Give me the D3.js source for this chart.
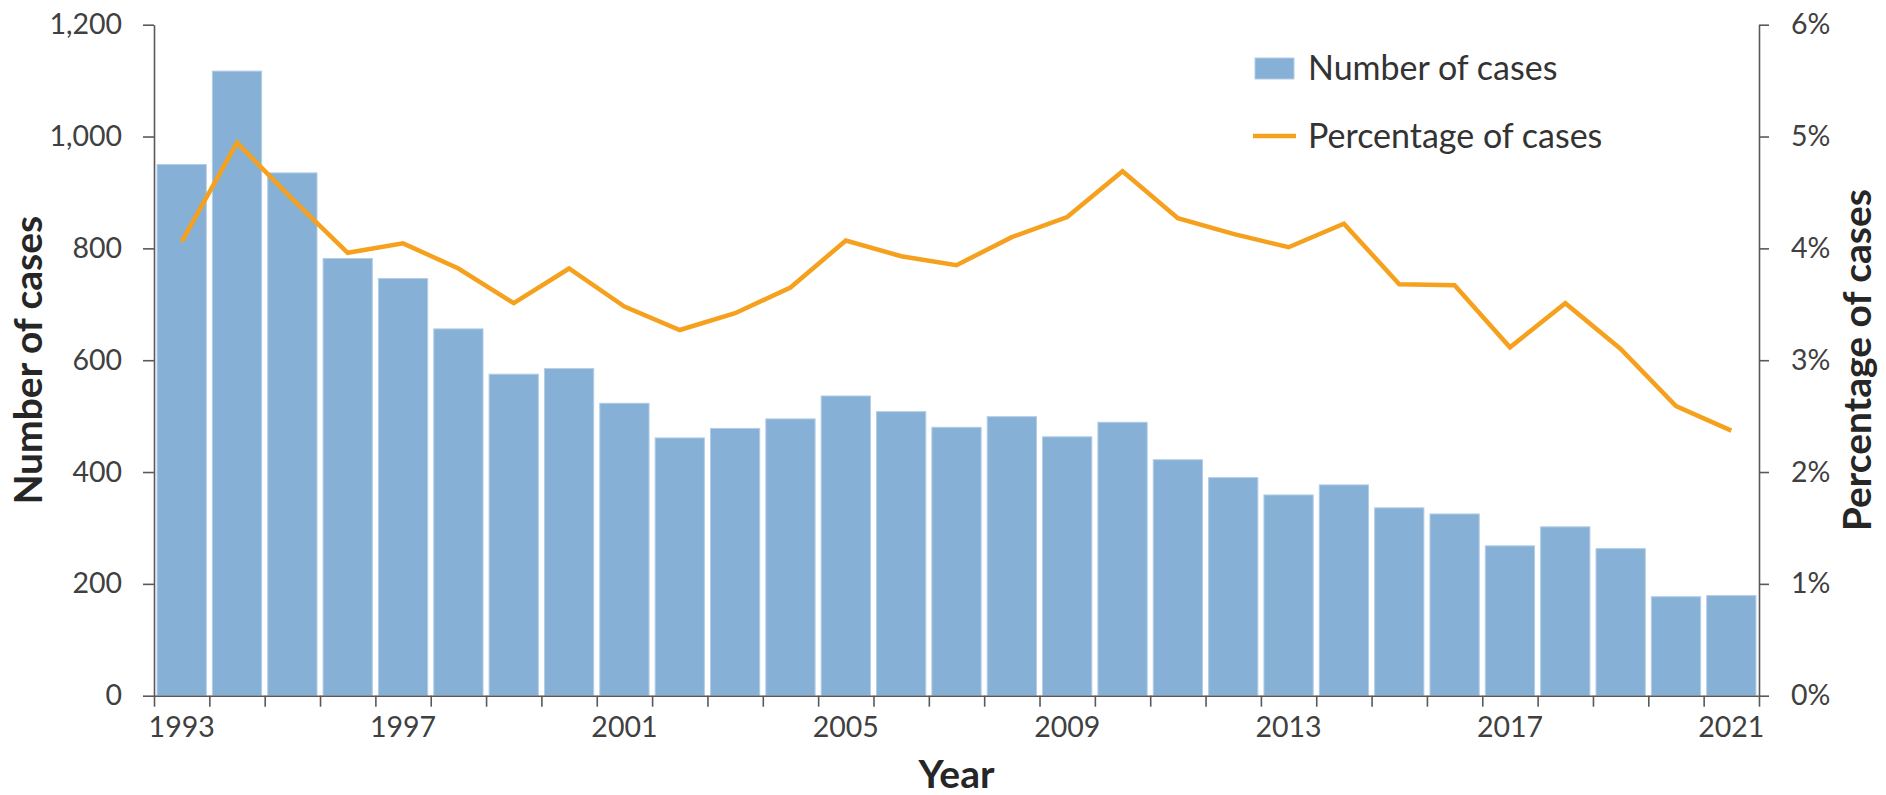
<!DOCTYPE html>
<html>
    <head>
        <meta charset='utf-8'>
        <script src="https://d3js.org/d3.v7.min.js"></script>
        <style>
            body { margin: 0; background: #fff; }
            .bars { fill: #86b0d6; stroke: #b3cde6; stroke-width: 1; }
            .pline { fill: none; stroke: #f5a11e; stroke-width: 4.5; stroke-linejoin: miter; }
            .axis path, .axis line { stroke: #595959; stroke-width: 1.6; }
            .axis text { font-family: Lato, sans-serif; font-size: 28.5px; fill: #404040; }
            .title { font-family: Lato, sans-serif; font-weight: bold; font-size: 39px; fill: #262626; }
            .legend text { font-family: Lato, sans-serif; font-size: 34px; fill: #333; }
        </style>
    </head>
    <body>
        <script>

            var years = [1993, 1994, 1995, 1996, 1997, 1998, 1999, 2000, 2001, 2002,
                         2003, 2004, 2005, 2006, 2007, 2008, 2009, 2010, 2011, 2012,
                         2013, 2014, 2015, 2016, 2017, 2018, 2019, 2020, 2021];
            var cases = [950, 1117, 935, 782, 746, 656, 575, 585, 523, 461,
                         478, 495, 536, 508, 480, 499, 463, 489, 422, 390,
                         359, 377, 336, 325, 268, 302, 263, 177, 179];
            var percent = [4.06, 4.945, 4.44, 3.96, 4.045, 3.82, 3.51, 3.82, 3.48, 3.27,
                           3.42, 3.65, 4.07, 3.93, 3.85, 4.10, 4.28, 4.69, 4.27, 4.13,
                           4.01, 4.22, 3.68, 3.67, 3.115, 3.51, 3.10, 2.59, 2.37];
            var labelYears = [1993, 1997, 2001, 2005, 2009, 2013, 2017, 2021];
            var leftTicks = [0, 200, 400, 600, 800, 1000, 1200];
            var rightTicks = [0, 1, 2, 3, 4, 5, 6];
            var seriesNames = ["Number of cases", "Percentage of cases"];

            var width = 1886, height = 795;
            var plotL = 154, plotR = 1759, plotT = 24.7, plotB = 695.7;

            var svg = d3.select('body')
                        .append('svg')
                        .attr('width', width)
                        .attr('height', height);

            var x = d3.scaleBand()
                .domain(years)
                .range([plotL, plotR])
                .paddingInner(0.11)
                .paddingOuter(0.055);

            // edges between bars, for the tick marks
            var xEdge = d3.scaleLinear()
                .domain([years[0], years[years.length - 1] + 1])
                .range([plotL, plotR]);

            var yL = d3.scaleLinear().domain([0, 1200]).range([plotB, plotT]);
            var yR = d3.scaleLinear().domain([0, 6]).range([plotB, plotT]);

            svg.selectAll("rect.bars")
                .data(years)
                .enter()
                .append("rect")
                .attr("class", "bars")
                .attr("x", function(d) { return x(d); })
                .attr("width", x.bandwidth())
                .attr("y", function(d, i) { return yL(cases[i]); })
                .attr("height", function(d, i) { return plotB - yL(cases[i]); });

            var line = d3.line()
                .x(function(d) { return x(d) + x.bandwidth() / 2; })
                .y(function(d, i) { return yR(percent[i]); });

            svg.append("path")
                .datum(years)
                .attr("class", "pline")
                .attr("d", line);

            // axes
            svg.append("g")
                .attr("class", "axis")
                .attr("transform", "translate(" + plotL + ",0)")
                .call(d3.axisLeft(yL).tickValues(leftTicks).tickFormat(d3.format(","))
                        .tickSize(11).tickSizeOuter(0).tickPadding(21));

            svg.append("g")
                .attr("class", "axis")
                .attr("transform", "translate(" + plotR + ",0)")
                .call(d3.axisRight(yR).tickValues(rightTicks).tickFormat(function(d) { return d + "%"; })
                        .tickSize(10).tickSizeOuter(0).tickPadding(22));

            svg.append("g")
                .attr("class", "axis")
                .attr("transform", "translate(0," + plotB + ")")
                .call(d3.axisBottom(xEdge).tickValues(d3.range(years[0], years[years.length - 1] + 2))
                        .tickFormat("").tickSize(11).tickSizeOuter(0));

            var xLabels = svg.append("g")
                .attr("class", "axis")
                .attr("transform", "translate(0," + plotB + ")")
                .call(d3.axisBottom(x).tickValues(labelYears).tickSize(0).tickPadding(21));
            xLabels.select(".domain").remove();

            // titles
            svg.append("text")
                .attr("class", "title")
                .attr("text-anchor", "middle")
                .attr("transform", "translate(42," + (plotT + plotB) / 2 + ") rotate(-90)")
                .text("Number of cases");

            svg.append("text")
                .attr("class", "title")
                .attr("text-anchor", "middle")
                .attr("transform", "translate(1871," + (plotT + plotB) / 2 + ") rotate(-90)")
                .text("Percentage of cases");

            svg.append("text")
                .attr("class", "title")
                .attr("text-anchor", "middle")
                .attr("x", (plotL + plotR) / 2)
                .attr("y", 788)
                .text("Year");

            // legend
            var legend = svg.append("g").attr("class", "legend");
            legend.append("rect")
                .attr("class", "bars")
                .attr("x", 1255).attr("y", 58)
                .attr("width", 39).attr("height", 21);
            legend.append("line")
                .attr("class", "pline")
                .attr("x1", 1253).attr("x2", 1296)
                .attr("y1", 136).attr("y2", 136);
            legend.selectAll("text")
                .data(seriesNames)
                .enter()
                .append("text")
                .attr("x", 1308)
                .attr("y", function(d, i) { return 80 + i * 68; })
                .text(function(d) { return d; });

        </script>
    </body>
</html>
